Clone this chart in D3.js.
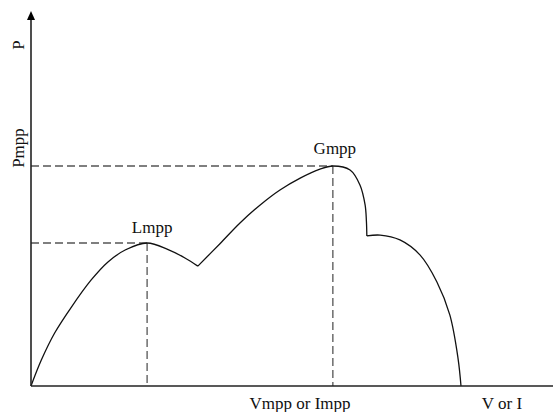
<!DOCTYPE html>
<html lang="en">
<head>
    <meta charset="UTF-8">
    <title>P-V curve with Lmpp and Gmpp</title>
    <style>
        html, body {
            margin: 0;
            padding: 0;
            background: #fff;
        }
        svg {
            display: block;
            font-family: "Liberation Serif", "DejaVu Serif", serif;
        }
    </style>
</head>
<body>
    <div id="chart"></div>
    <script src="https://d3js.org/d3.v7.min.js"></script>
    <script>
        // curve, [V, P] in arbitrary units (Gmpp = 100)
        const rise1 = [[0, 0], [2.4, 11.8], [5.5, 24.1], [9.4, 35.9], [14, 48.2], [17.9, 56.4],
            [21.9, 61.8], [27, 65], [31.9, 62], [35.8, 58.2], [38.8, 54.5]];
        const rise2 = [[38.8, 54.5], [44, 64.8], [48.6, 74.1], [53.3, 82.3], [57.9, 89.1],
            [62.6, 94.5], [67.2, 98.6], [70.2, 100], [74.2, 98.2], [76.5, 91.4], [77.7, 82.3],
            [78.0, 75], [78.1, 68.2]];
        const fall = [[78.1, 68.2], [81.2, 68.6], [85.8, 66.4], [90.5, 59.5], [94.4, 47.3],
            [97.4, 32.3], [99.3, 12.7], [100, 0]];

        const lmpp = [27, 65];
        const gmpp = [70.2, 100];

        const width = 553;
        const height = 412;

        const svg = d3.select('#chart')
            .append('svg')
            .attr('width', width)
            .attr('height', height);

        const x = d3.scaleLinear().domain([0, 100]).range([31, 461]);
        const y = d3.scaleLinear().domain([0, 100]).range([386, 166]);

        const x0 = x(0), y0 = y(0);

        // dashed guides
        const dash = svg.append('g')
            .attr('stroke', '#555')
            .attr('stroke-width', 1.3)
            .attr('stroke-dasharray', '8,4')
            .attr('fill', 'none');

        [lmpp, gmpp].forEach(p => {
            dash.append('line')
                .attr('x1', x0).attr('y1', y(p[1]))
                .attr('x2', x(p[0])).attr('y2', y(p[1]));
            dash.append('line')
                .attr('x1', x(p[0])).attr('y1', y(p[1]))
                .attr('x2', x(p[0])).attr('y2', y0);
        });

        // curve
        const line = d3.line()
            .x(d => x(d[0]))
            .y(d => y(d[1]))
            .curve(d3.curveCatmullRom.alpha(0.5));

        svg.append('path')
            .attr('d', line(rise1) + line(rise2) + line(fall))
            .attr('fill', 'none')
            .attr('stroke', '#111')
            .attr('stroke-width', 1.3);

        // axes
        svg.append('line')
            .attr('x1', x0).attr('y1', y0)
            .attr('x2', width).attr('y2', y0)
            .attr('stroke', '#222')
            .attr('stroke-width', 1.6);

        svg.append('line')
            .attr('x1', x0).attr('y1', y0)
            .attr('x2', x0).attr('y2', 16)
            .attr('stroke', '#222')
            .attr('stroke-width', 1.6);

        svg.append('path')
            .attr('d', `M${x0},11 L${x0 - 4},20 L${x0 + 4},20 Z`)
            .attr('fill', '#000');

        // labels
        const label = (t, px, py, rot) => {
            svg.append('text')
                .attr('transform', `translate(${px},${py})` + (rot ? ' rotate(-90)' : ''))
                .attr('text-anchor', 'middle')
                .attr('font-size', 17)
                .attr('fill', '#111')
                .text(t);
        };

        label('P', 24, 45, true);
        label('Pmpp', 24, 148, true);
        label('Lmpp', x(lmpp[0]) + 5, 233);
        label('Gmpp', x(gmpp[0]) + 2, 154);
        label('Vmpp or Impp', 300, 409);
        label('V or I', 502, 409);
    </script>
</body>
</html>
